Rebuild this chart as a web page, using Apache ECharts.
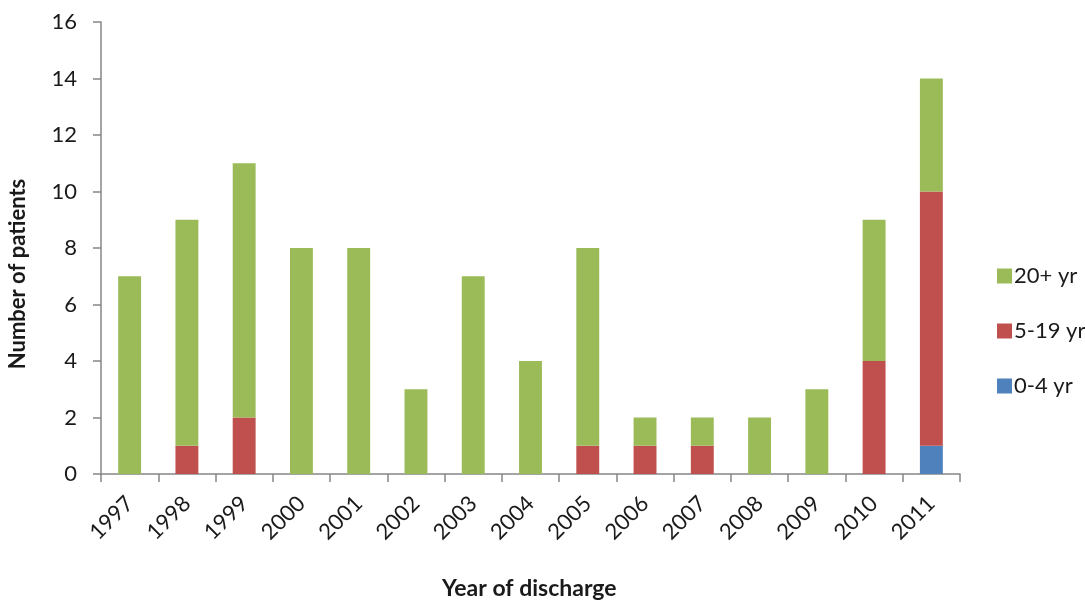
<!DOCTYPE html>
<html>
<head>
<meta charset="utf-8">
<script src="https://cdn.jsdelivr.net/npm/echarts@6/dist/echarts.min.js"></script>
<style>
  html, body { margin: 0; padding: 0; background: #fff; }
  #chart { width: 1085px; height: 601px; }
</style>
</head>
<body>
<div id="chart"></div>
<script>
// Patients by year of discharge, split by age group
const years = ['1997','1998','1999','2000','2001','2002','2003','2004','2005','2006','2007','2008','2009','2010','2011'];
const age0to4   = [0, 0, 0, 0, 0, 0, 0, 0, 0, 0, 0, 0, 0, 0, 1];
const age5to19  = [0, 1, 2, 0, 0, 0, 0, 0, 1, 1, 1, 0, 0, 4, 9];
const age20plus = [7, 8, 9, 8, 8, 3, 7, 4, 7, 1, 1, 2, 3, 5, 4];
const yTicks = { min: 0, max: 16, interval: 2 };

const FONT = 'Lato, "Open Sans", sans-serif';
const TEXT = '#1a1a1a';
const AXIS = '#868686';

const chart = echarts.init(document.getElementById('chart'));

function barSeries(name, data, color) {
  return {
    name: name,
    type: 'bar',
    stack: 'total',
    data: data,
    barWidth: '40%',
    itemStyle: { color: color },
    emphasis: { disabled: true }
  };
}

chart.setOption({
  animation: false,
  textStyle: { fontFamily: FONT },
  grid: { left: 101, right: 125, top: 22, bottom: 127, containLabel: false },
  legend: {
    orient: 'vertical',
    left: 992,
    top: 260,
    itemWidth: 15,
    itemHeight: 15,
    itemGap: 33,
    icon: 'rect',
    data: ['20+ yr', '5-19 yr', '0-4 yr'],
    textStyle: { fontFamily: FONT, fontSize: 22, color: TEXT, padding: [0, 0, 0, -3] }
  },
  graphic: [
    {
      type: 'text',
      left: 532 - 90,
      top: 577,
      style: { text: 'Year of discharge', font: 'bold 23px ' + FONT, fill: TEXT }
    },
    {
      type: 'text',
      x: 7,
      y: 274,
      rotation: Math.PI / 2,
      style: {
        text: 'Number of patients',
        font: 'bold 22px ' + FONT,
        fill: TEXT,
        align: 'center',
        verticalAlign: 'top'
      }
    }
  ],
  xAxis: {
    type: 'category',
    data: years,
    boundaryGap: true,
    axisLine: { lineStyle: { color: AXIS, width: 1.5 } },
    axisTick: { show: true, length: 8, alignWithLabel: false, lineStyle: { color: AXIS, width: 1.5 } },
    axisLabel: { rotate: 45, fontSize: 22, color: TEXT, margin: 26, fontFamily: FONT },
    splitLine: { show: false }
  },
  yAxis: {
    type: 'value',
    min: yTicks.min,
    max: yTicks.max,
    interval: yTicks.interval,
    axisLine: { show: true, lineStyle: { color: AXIS, width: 1.5 } },
    axisTick: { show: true, length: 8, lineStyle: { color: AXIS, width: 1.5 } },
    axisLabel: { fontSize: 22, color: TEXT, margin: 24, fontFamily: FONT },
    splitLine: { show: false }
  },
  series: [
    barSeries('0-4 yr', age0to4, '#4F81BD'),
    barSeries('5-19 yr', age5to19, '#C0504D'),
    barSeries('20+ yr', age20plus, '#9BBB59')
  ]
});
</script>
</body>
</html>
